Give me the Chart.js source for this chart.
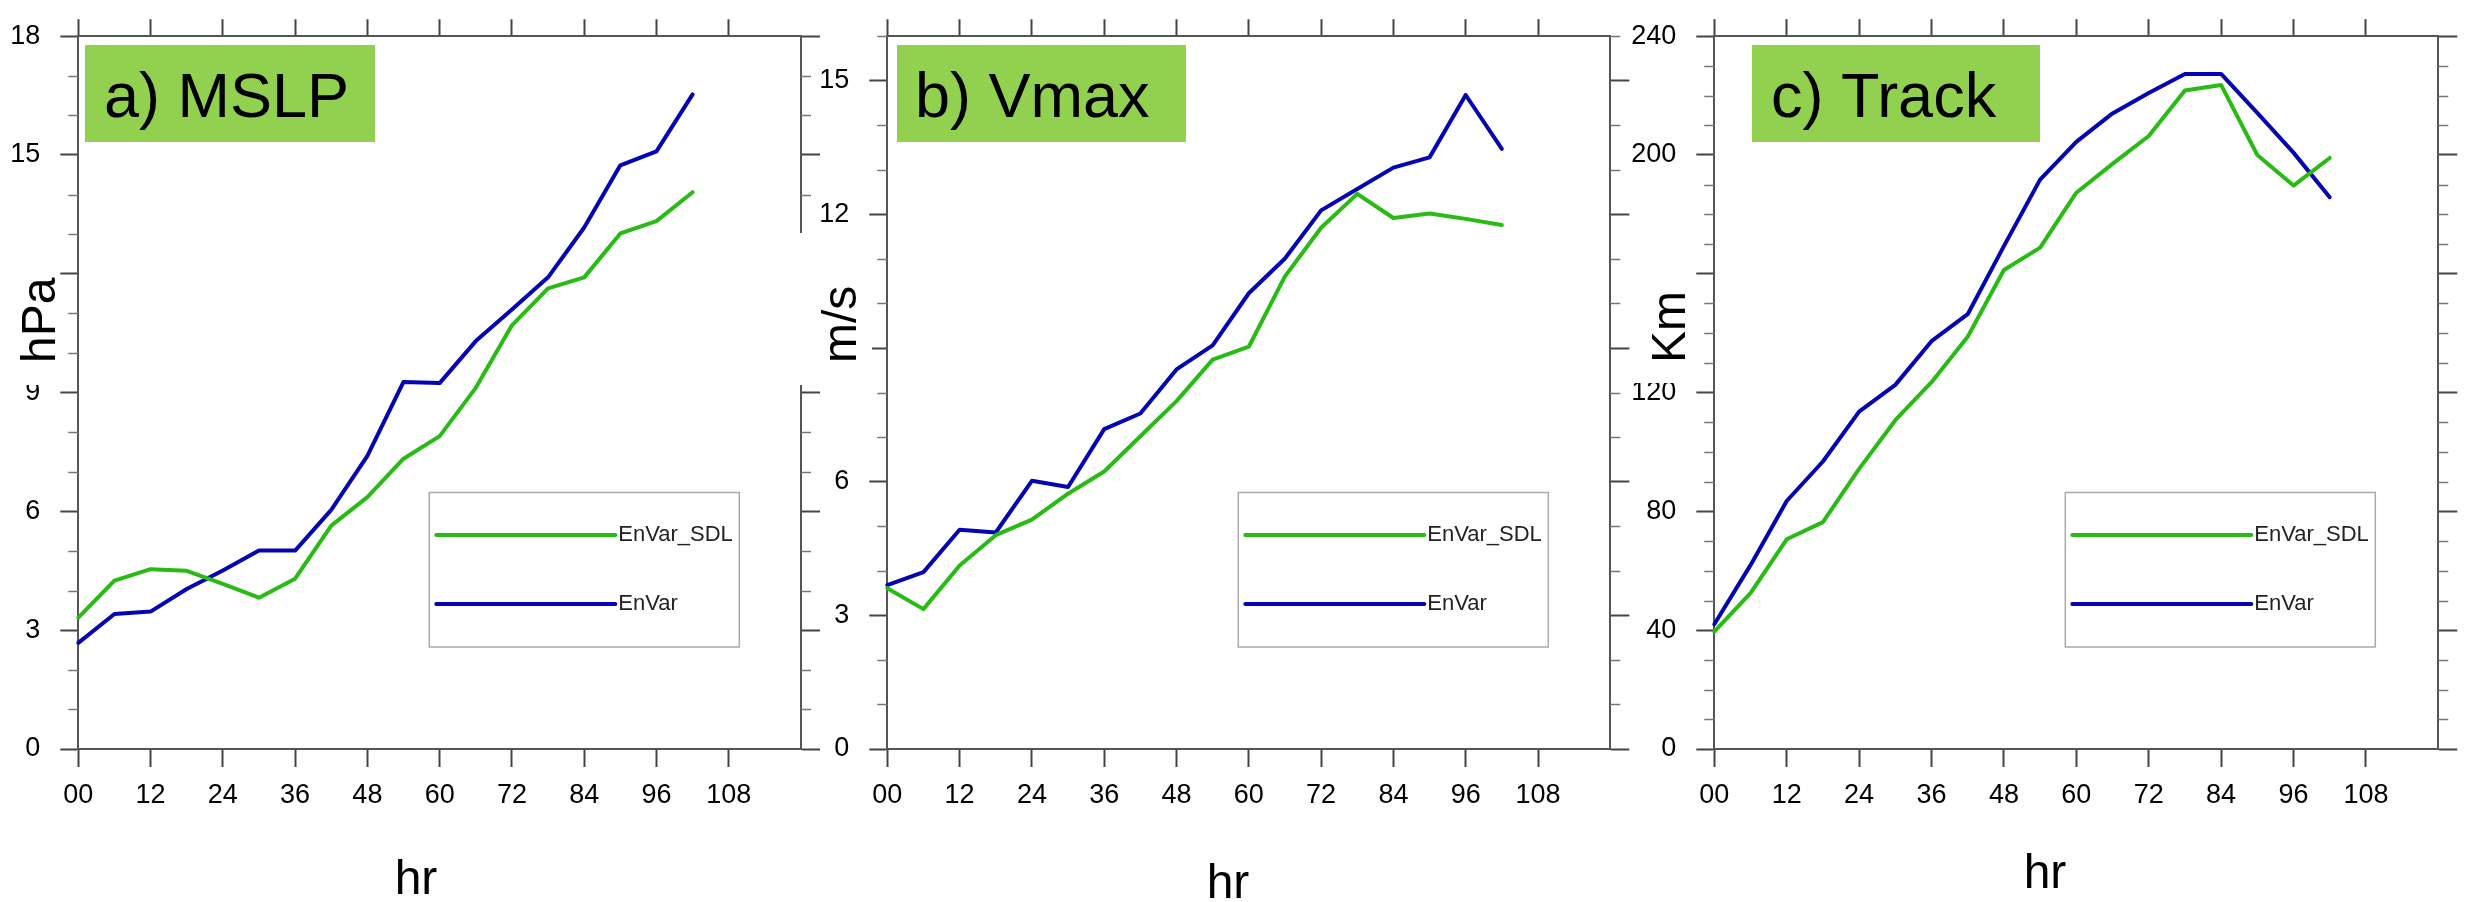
<!DOCTYPE html>
<html>
<head>
<meta charset="utf-8">
<title>MSLP / Vmax / Track errors</title>
<script src="https://cdn.jsdelivr.net/npm/chart.js@4.4.1/dist/chart.umd.min.js"></script>
<style>
  html, body { margin: 0; padding: 0; background: #fff; }
  #wrap { position: relative; width: 2465px; height: 902px; overflow: hidden; background: #fff; }
  #wrap canvas { position: absolute; left: 0; top: 0; }
</style>
</head>
<body>
<div id="wrap">
  <canvas id="chartA" width="2465" height="902"></canvas>
  <canvas id="chartB" width="2465" height="902"></canvas>
  <canvas id="chartC" width="2465" height="902"></canvas>
</div>
<script>
// Forecast hours and tick labels
const hours = [0, 6, 12, 18, 24, 30, 36, 42, 48, 54, 60, 66, 72, 78, 84, 90, 96, 102];
const hourTickLabels = ['00', '12', '24', '36', '48', '60', '72', '84', '96', '108'];
const seriesNames = ['EnVar_SDL', 'EnVar'];

// a) MSLP (hPa)
const mslpSDL   = [3.32, 4.25, 4.54, 4.50, 4.17, 3.82, 4.30, 5.64, 6.36, 7.33, 7.90, 9.12, 10.70, 11.63, 11.91, 13.02, 13.33, 14.06];
const mslpEnVar = [2.68, 3.41, 3.47, 4.04, 4.51, 5.01, 5.01, 6.04, 7.40, 9.27, 9.24, 10.30, 11.10, 11.91, 13.17, 14.74, 15.09, 16.53];

// b) Vmax (m/s)
const vmaxSDL   = [3.61, 3.14, 4.12, 4.80, 5.15, 5.73, 6.23, 7.02, 7.81, 8.74, 9.03, 10.61, 11.70, 12.46, 11.92, 12.02, 11.90, 11.76];
const vmaxEnVar = [3.68, 3.97, 4.92, 4.86, 6.02, 5.88, 7.18, 7.53, 8.52, 9.06, 10.23, 11.01, 12.09, 12.57, 13.05, 13.28, 14.68, 13.47];

// c) Track (Km)
const trackSDL   = [39.5, 52.5, 70.6, 76.4, 94.3, 110.7, 123.5, 138.8, 161.3, 168.8, 187.3, 197.0, 206.4, 221.7, 223.6, 200.0, 189.7, 199.0];
const trackEnVar = [42.0, 61.9, 83.5, 96.8, 113.6, 122.6, 137.3, 146.4, 169.3, 191.7, 204.4, 214.0, 220.9, 227.3, 227.3, 214.2, 200.8, 185.8];

// Styles
const FONT = '"Liberation Sans", Arial, Helvetica, sans-serif';
const GREEN = '#28bb14';
const BLUE = '#0404b4';
const AXIS = '#555';
const TICK = '#444';
const MINOR = '#777';
const W = 2465, H = 902;

// Panel layout (pixels)
const panels = [
    {
        id: 'chartA', sdl: mslpSDL, envar: mslpEnVar,
        area: { left: 78.3, top: 25, right: 801, bottom: 749 }, axisW: 70,
        yMax: 18, yStep: 3, yMinor: 1,
        tag: 'a) MSLP', tagBox: [85, 45, 375, 142], tagX: 104,
        yTitle: 'hPa', yTitleX: 55, cover: [8, 256, 57, 385],
        xTitleX: 416, xTitleY: 894
    },
    {
        id: 'chartB', sdl: vmaxSDL, envar: vmaxEnVar,
        area: { left: 887.3, top: 25, right: 1610.3, bottom: 749 }, axisW: 80,
        yMax: 16, yStep: 3, yMinor: 1,
        tag: 'b) Vmax', tagBox: [897, 45, 1186, 142], tagX: 915,
        yTitle: 'm/s', yTitleX: 856, cover: [790, 233, 872, 385],
        xTitleX: 1228, xTitleY: 898
    },
    {
        id: 'chartC', sdl: trackSDL, envar: trackEnVar,
        area: { left: 1714.3, top: 25, right: 2438.3, bottom: 749 }, axisW: 95,
        yMax: 240, yStep: 40, yMinor: 10,
        tag: 'c) Track', tagBox: [1752, 45, 2040, 142], tagX: 1771,
        yTitle: 'Km', yTitleX: 1685, cover: [1632, 261, 1693, 383],
        xTitleX: 2045, xTitleY: 888
    }
];

// Drop the tick at 120 hr (no mark there)
function dropLast(scale) {
    scale.ticks = scale.ticks.filter(t => t.value < 120);
}

// Minor ticks, legend, panel tag and axis titles
function makeDecor(p) {
    return {
        id: 'panelDecor',
        afterDraw(chart) {
            const ctx = chart.ctx;
            const area = chart.chartArea;
            ctx.save();

            // minor ticks on left and right axes
            ctx.strokeStyle = MINOR;
            ctx.lineWidth = 1.5;
            ['y', 'y2'].forEach(id => {
                const s = chart.scales[id];
                const left = s.position === 'left';
                const x0 = left ? area.left : area.right;
                const dir = left ? -1 : 1;
                for (let v = 0; v <= p.yMax + 1e-6; v += p.yMinor) {
                    if (Math.abs(v / p.yStep - Math.round(v / p.yStep)) < 1e-6) continue;
                    const y = Math.round(s.getPixelForValue(v)) + 0.5;
                    ctx.beginPath();
                    ctx.moveTo(x0, y);
                    ctx.lineTo(x0 + dir * 10, y);
                    ctx.stroke();
                }
            });

            // legend
            const lx = area.left + 351, ly = 492.5, lw = 310, lh = 154.5;
            ctx.strokeStyle = '#aaa';
            ctx.lineWidth = 1.5;
            ctx.strokeRect(lx, ly, lw, lh);
            const rows = [42.5, 111.5];
            chart.data.datasets.forEach((ds, i) => {
                const y = ly + rows[i];
                ctx.strokeStyle = ds.borderColor;
                ctx.lineWidth = 4;
                ctx.lineCap = 'round';
                ctx.beginPath();
                ctx.moveTo(lx + 7, y);
                ctx.lineTo(lx + 186, y);
                ctx.stroke();
                ctx.fillStyle = '#222';
                ctx.font = `22px ${FONT}`;
                ctx.textAlign = 'left';
                ctx.textBaseline = 'middle';
                ctx.fillText(ds.label, lx + 189, y);
            });

            // panel tag
            const [bx0, by0, bx1, by1] = p.tagBox;
            ctx.fillStyle = '#92d050';
            ctx.fillRect(bx0, by0, bx1 - bx0, by1 - by0);
            ctx.fillStyle = '#000';
            ctx.font = `63px ${FONT}`;
            ctx.textAlign = 'left';
            ctx.textBaseline = 'alphabetic';
            ctx.fillText(p.tag, p.tagX, 117);

            // y title on a white box
            const [cx0, cy0, cx1, cy1] = p.cover;
            ctx.fillStyle = '#fff';
            ctx.fillRect(cx0, cy0, cx1 - cx0, cy1 - cy0);
            ctx.fillStyle = '#000';
            ctx.font = `48px ${FONT}`;
            ctx.translate(p.yTitleX, 363);
            ctx.rotate(-Math.PI / 2);
            ctx.textAlign = 'left';
            ctx.textBaseline = 'alphabetic';
            ctx.fillText(p.yTitle, 0, 0);
            ctx.setTransform(1, 0, 0, 1, 0, 0);

            // x title
            ctx.font = `48px ${FONT}`;
            ctx.textAlign = 'center';
            ctx.fillText('hr', p.xTitleX, p.xTitleY);

            ctx.restore();
        }
    };
}

function makeChart(p) {
    const WL = p.axisW, WR = 30, HT = 20, HB = 70;
    const tickFont = { family: FONT, size: 27 };
    const grid = (len) => ({
        drawOnChartArea: false, drawTicks: true, tickLength: len,
        tickWidth: 2, tickColor: TICK
    });
    const border = { display: true, color: AXIS, width: 2 };

    const line = (label, values, color) => ({
        label: label,
        data: hours.map((h, i) => ({ x: h, y: values[i] })),
        borderColor: color,
        backgroundColor: color,
        borderWidth: 4,
        pointRadius: 0,
        tension: 0,
        fill: false,
        borderJoinStyle: 'round',
        borderCapStyle: 'round'
    });

    return new Chart(document.getElementById(p.id), {
        type: 'line',
        data: {
            datasets: [
                line(seriesNames[0], p.sdl, GREEN),
                line(seriesNames[1], p.envar, BLUE)
            ]
        },
        options: {
            responsive: false,
            animation: false,
            events: [],
            clip: false,
            layout: {
                autoPadding: false,
                padding: {
                    left: p.area.left - WL,
                    right: W - p.area.right - WR,
                    top: p.area.top - HT,
                    bottom: H - p.area.bottom - HB
                }
            },
            plugins: {
                legend: { display: false },
                tooltip: { enabled: false },
                title: { display: false }
            },
            scales: {
                x: {
                    type: 'linear', position: 'bottom', min: 0, max: 120,
                    afterBuildTicks: dropLast,
                    afterFit: s => { s.height = HB; },
                    ticks: {
                        stepSize: 12, autoSkip: false, maxRotation: 0, padding: 12,
                        font: tickFont, color: '#000',
                        callback: v => hourTickLabels[Math.round(v / 12)] || ''
                    },
                    grid: grid(18), border: border
                },
                x2: {
                    type: 'linear', position: 'top', min: 0, max: 120,
                    afterBuildTicks: dropLast,
                    afterFit: s => { s.height = HT; },
                    ticks: { stepSize: 12, display: false },
                    grid: grid(17), border: border
                },
                y: {
                    type: 'linear', position: 'left', min: 0, max: p.yMax,
                    afterFit: s => { s.width = WL; },
                    ticks: {
                        stepSize: p.yStep, includeBounds: false, padding: 20,
                        font: tickFont, color: '#000'
                    },
                    grid: grid(18), border: border
                },
                y2: {
                    type: 'linear', position: 'right', min: 0, max: p.yMax,
                    afterFit: s => { s.width = WR; },
                    ticks: { stepSize: p.yStep, includeBounds: false, display: false },
                    grid: grid(19), border: border
                }
            }
        },
        plugins: [makeDecor(p)]
    });
}

panels.forEach(makeChart);
</script>
</body>
</html>
